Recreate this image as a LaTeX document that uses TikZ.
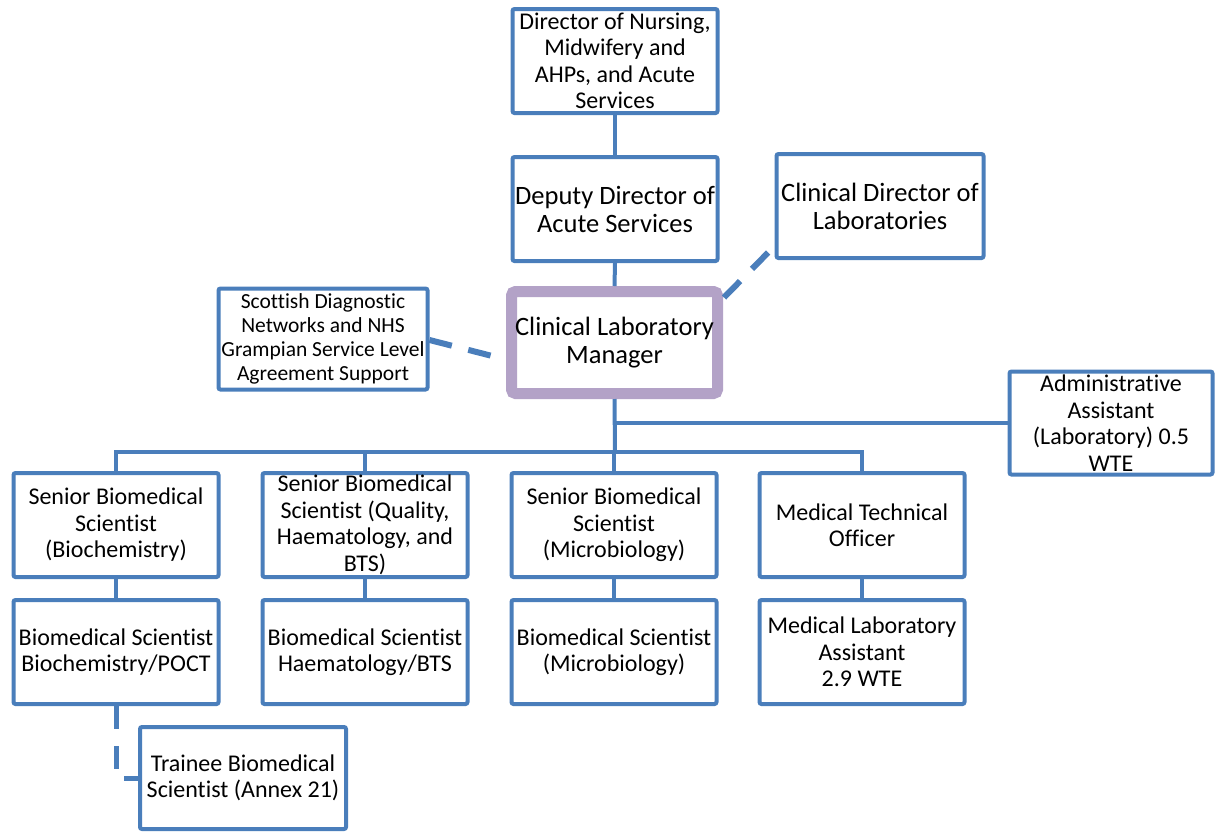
\documentclass[tikz,border=0pt]{standalone}
\usepackage{fontspec}
\setmainfont[Ligatures={NoCommon,NoContextual}]{Carlito}
\definecolor{orgblue}{RGB}{74,126,187}
\definecolor{orgpurple}{RGB}{179,162,199}
\begin{document}
\begin{tikzpicture}[x=1pt, y=-1pt,
  box/.style={draw=orgblue, line width=4pt, rounded corners=2pt, fill=white,
              align=center, inner sep=1pt, minimum width=205pt, minimum height=104pt,
              font=\fontsize{24}{26.5}\selectfont},
  bigbox/.style={box, font=\fontsize{26.5}{28}\selectfont},
  bossbox/.style={box, draw=orgpurple, line width=11pt, rounded corners=4pt,
                  minimum width=206pt, minimum height=102pt,
                  font=\fontsize{26.5}{28.5}\selectfont},
  link/.style={draw=orgblue, line width=4pt},
  dashlink/.style={draw=orgblue, line width=6pt, dash pattern=on 23pt off 17pt}]
  \useasboundingbox (0,0) rectangle (1216,831);
  % top of the chart
  \node[box] (dirnurse) at (615,61) {Director of Nursing,\\Midwifery and\\AHPs, and Acute\\Services};
  \node[bigbox] (deputy) at (615,209) {Deputy Director of\\Acute Services};
  \node[bigbox, minimum width=207pt] (clindir) at (880,206) {Clinical Director of\\Laboratories};
  \node[box, minimum width=209pt, minimum height=101pt,
        font=\fontsize{21.5}{24}\selectfont] (scottish) at (323,339)
    {Scottish Diagnostic\\Networks and NHS\\Grampian Service Level\\Agreement Support};
  \node[bossbox] (manager) at (614.5,342.5) {Clinical Laboratory\\Manager};
  \node[box, minimum width=203pt, minimum height=103pt] (admin) at (1111,423)
    {Administrative\\Assistant\\(Laboratory) 0.5\\WTE};
  % senior staff
  \node[box] (sbio)   at (116,525) {Senior Biomedical\\Scientist\\(Biochemistry)};
  \node[box] (squal)  at (365,525) {Senior Biomedical\\Scientist (Quality,\\Haematology, and\\BTS)};
  \node[box] (smicro) at (614,525) {Senior Biomedical\\Scientist\\(Microbiology)};
  \node[box] (mto)    at (862,525) {Medical Technical\\Officer};
  % scientists and assistants
  \node[box] (poct)   at (116,652) {Biomedical Scientist\\Biochemistry/POCT};
  \node[box] (bts)    at (365,652) {Biomedical Scientist\\Haematology/BTS};
  \node[box] (bmicro) at (614,652) {Biomedical Scientist\\(Microbiology)};
  \node[box] (mla)    at (862,652) {Medical Laboratory\\Assistant\\2.9 WTE};
  \node[box, minimum width=206pt, minimum height=102pt] (trainee) at (243,778)
    {Trainee Biomedical\\Scientist (Annex 21)};
  % solid lines
  \coordinate (bus) at (615,452);
  \coordinate (adminjoin) at (manager.south |- admin.west);
  \draw[link] (dirnurse.south) -- (deputy.north);
  \draw[link] (deputy.south) -- (manager.north);
  \draw[link] (manager.south) -- (bus);
  \draw[link] (admin.west) -- (adminjoin);
  \foreach \n in {sbio,squal,smicro,mto}
    \draw[link] (\n.north) |- (bus);
  \draw[link] (sbio.south) -- (poct.north);
  \draw[link] (squal.south) -- (bts.north);
  \draw[link] (smicro.south) -- (bmicro.north);
  \draw[link] (mto.south) -- (mla.north);
  % dashed lines
  \draw[dashlink] ([yshift=-1pt]scottish.east) -- ([yshift=-17pt]manager.west);
  \draw[dashlink] ([xshift=1pt,yshift=45pt]manager.east) -- ([yshift=14pt]clindir.south west);
  \draw[dashlink, line width=5pt] (poct.south) |- (trainee.west);
\end{tikzpicture}
\end{document}
